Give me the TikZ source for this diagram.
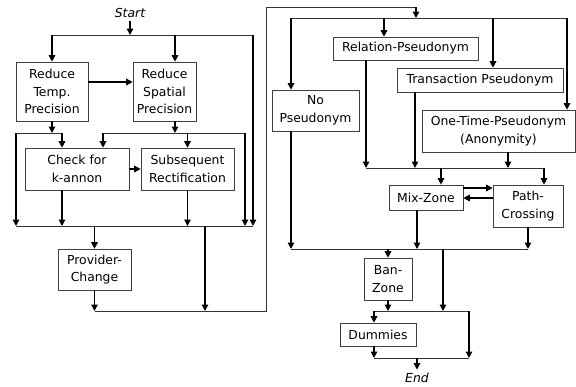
\documentclass[tikz,border=0pt]{standalone}
\usepackage{fontspec}
\setmainfont{DejaVu Sans}
\usetikzlibrary{arrows.meta}

\begin{document}
\begin{tikzpicture}[x=1pt,y=-1pt,
  every node/.style={font=\fontsize{12.4}{17.5}\selectfont},
  box/.style={draw=black!75,line width=0.6pt,align=center,inner sep=0pt},
  arr/.style={-{Triangle[length=6.5pt,width=6.5pt]},line width=1.4pt},
  rail/.style={line width=0.8pt,black!80}]
\useasboundingbox (0,0) rectangle (576,386);
% rails
\coordinate (r1) at (0,35);
\coordinate (r2) at (0,133);
\coordinate (r3) at (0,226);
\coordinate (r4) at (0,311);
\coordinate (r6) at (0,18);
\coordinate (r7) at (0,168);
\coordinate (r8) at (0,249);
\coordinate (r9) at (0,311);
\coordinate (r10) at (0,358);
\coordinate (q1) at (0,188);
\coordinate (q2) at (0,198);
% junctions
\coordinate (e1) at (253,35);
\coordinate (e2) at (175,35);
\coordinate (f1) at (16,133);
\coordinate (f2) at (62,133);
\coordinate (g1) at (103,133);
\coordinate (g2) at (245,133);
\coordinate (h1) at (205,226);
\coordinate (k1) at (266,311);
\coordinate (k2) at (266,7);
\coordinate (k3) at (416,7);
\coordinate (n1) at (291,18);
\coordinate (n2) at (384,18);
\coordinate (n3) at (493,18);
\coordinate (n4) at (567,18);
\coordinate (p1) at (366,168);
\coordinate (p2) at (415,168);
\coordinate (p3) at (508,168);
\coordinate (p4) at (544,168);
\coordinate (p5) at (441,168);
\coordinate (s1) at (417,249);
\coordinate (t1) at (443,249);
\coordinate (u1) at (374,311);
\coordinate (u2) at (469,311);

\node (start) at (130,13) {\itshape Start};
\node (end) at (417,378) {\itshape End};

\node[box,minimum width=72,minimum height=59] (rtp) at (52,91.5) {Reduce\\Temp.\\Precision};
\node[box,minimum width=63,minimum height=59] (rsp) at (164.5,91.5) {Reduce\\Spatial\\Precision};
\node[box,minimum width=104,minimum height=42] (chk) at (77,169) {Check for\\k-annon};
\node[box,minimum width=93,minimum height=42] (sub) at (187.5,169) {Subsequent\\Rectification};
\node[box,minimum width=73,minimum height=41] (prov) at (94.5,269.5) {Provider-\\Change};

\node[box,minimum width=145,minimum height=23] (rel) at (405.5,48.5) {Relation-Pseudonym};
\node[box,minimum width=166,minimum height=24] (trans) at (480,80) {Transaction Pseudonym};
\node[box,minimum width=87,minimum height=41] (nop) at (315.5,110.5) {No\\Pseudonym};
\node[box,minimum width=153,minimum height=42] (one) at (498.5,131) {One-Time-Pseudonym\\(Anonymity)};
\node[box,minimum width=74,minimum height=25] (mix) at (426,197.5) {Mix-Zone};
\node[box,minimum width=70,minimum height=42] (path) at (528,206) {Path-\\Crossing};
\node[box,minimum width=48,minimum height=42] (ban) at (388,279) {Ban-\\Zone};
\node[box,minimum width=76,minimum height=23] (dum) at (378,334.5) {Dummies};

% left part
\draw[arr] (start) -- (start |- r1);
\draw[rail] (rtp.north |- r1) -- (e1);
\draw[arr] (rtp.north |- r1) -- (rtp.north);
\draw[arr] (e2) -- (e2 |- rsp.north);
\draw[arr] (e1) -- (e1 |- r3);
\draw[arr] ([yshift=9.5pt]rtp.east) -- ([yshift=9.5pt]rsp.west);
\draw[arr] (rtp.south) -- (rtp.south |- r2);
\draw[arr] (e2 |- rsp.south) -- (e2 |- r2);
\draw[rail] (f1) -- (f2);
\draw[rail] (g1) -- (g2);
\draw[arr] (f1) -- (f1 |- r3);
\draw[arr] (f2) -- (f2 |- chk.north);
\draw[arr] (g1) -- (g1 |- chk.north);
\draw[arr] (sub.north |- r2) -- (sub.north);
\draw[arr] (g2) -- (g2 |- r3);
\draw[arr] (chk) -- (sub);
\draw[arr] (f2 |- chk.south) -- (f2 |- r3);
\draw[arr] (sub.south) -- (sub.south |- r3);
\draw[rail] (f1 |- r3) -- (e1 |- r3);
\draw[arr] (prov.north |- r3) -- (prov.north);
\draw[arr] (h1) -- (h1 |- r4);
\draw[arr] (prov.south) -- (prov.south |- r4);
\draw[rail] (prov.south |- r4) -- (k1) -- (k2) -- (k3);
\draw[arr] (k3) -- (k3 |- r6);

% right part
\draw[rail] (n1) -- (n4);
\draw[arr] (n1) -- (n1 |- nop.north);
\draw[arr] (n2) -- (n2 |- rel.north);
\draw[arr] (n3) -- (n3 |- trans.north);
\draw[arr] (n4) -- (n4 |- one.north);
\draw[arr] (p1 |- rel.south) -- (p1);
\draw[arr] (p2 |- trans.south) -- (p2);
\draw[arr] (p3 |- one.south) -- (p3);
\draw[rail] (p1) -- (p4);
\draw[arr] (p5) -- (p5 |- mix.north);
\draw[arr] (p4) -- (p4 |- path.north);
\draw[arr] (mix.east |- q1) -- (path.west |- q1);
\draw[arr] (path.west |- q2) -- (mix.east |- q2);
\draw[arr] (n1 |- nop.south) -- (n1 |- r8);
\draw[arr] (s1 |- mix.south) -- (s1);
\draw[arr] (path.south) -- (path.south |- r8);
\draw[rail] (n1 |- r8) -- (path.south |- r8);
\draw[arr] (ban.north |- r8) -- (ban.north);
\draw[arr] (t1) -- (t1 |- r9);
\draw[arr] (ban.south) -- (ban.south |- r9);
\draw[rail] (u1) -- (u2);
\draw[arr] (u1) -- (u1 |- dum.north);
\draw[arr] (u2) -- (u2 |- r10);
\draw[arr] (u1 |- dum.south) -- (u1 |- r10);
\draw[rail] (u1 |- r10) -- (u2 |- r10);
\draw[arr] (end.north |- r10) -- (end);
\end{tikzpicture}
\end{document}
